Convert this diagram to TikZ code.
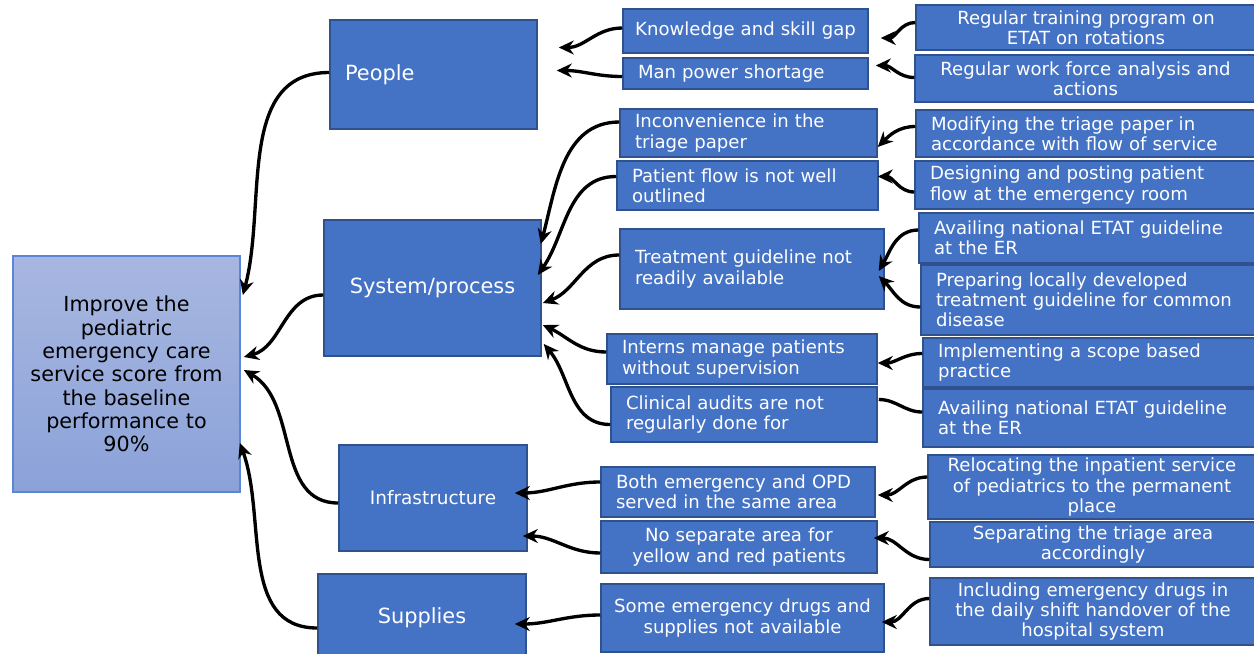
\documentclass[tikz,border=0pt]{standalone}
\usepackage{fontspec}
\setmainfont{DejaVu Sans}
\usetikzlibrary{arrows.meta,calc}
\definecolor{boxcol}{HTML}{4472C4}
\definecolor{edgecol}{HTML}{2F528F}
\definecolor{goaltop}{HTML}{A8B7E1}
\definecolor{goalbot}{HTML}{8BA2D8}
\definecolor{goaledge}{HTML}{5B86D6}
\tikzset{
  box/.style={
    rectangle, draw=edgecol, fill=boxcol, line width=0.9pt,
    text=white, inner xsep=0.3cm, inner ysep=0pt,
    font=\fontsize{10.3}{11.4}\selectfont,
  },
  boxl/.style={box, align=left},
  boxc/.style={box, align=center},
  catbox/.style={box, font=\fontsize{11.9}{13}\selectfont},
  goalbox/.style={
    rectangle, draw=goaledge, line width=1pt,
    top color=goaltop, bottom color=goalbot,
    text=black, align=center, inner xsep=0.1cm,
    font=\fontsize{11.8}{13.3}\selectfont,
  },
  arr/.style={-{Stealth[length=3mm,width=2.8mm]}, line width=1.9pt},
  lnk/.style={line width=1.9pt},
}

\begin{document}
\begin{tikzpicture}[x=0.02cm, y=-0.02cm]

\useasboundingbox (0,0) rectangle (1254,653);
\fill[white] (0,0) rectangle (1254,653);
\clip (0,0) rectangle (1254,653);

% ===== Goal =====
\node[goalbox, text width=4.34cm, minimum height=4.72cm] (goal) at (126.5,374)
  {Improve the\\pediatric\\emergency care\\service score from\\the baseline\\performance to\\90\%};

% ===== Categories =====
\node[catbox, align=left, text width=3.54cm, minimum height=2.18cm] (people) at (433.5,74.5) {People};
\node[catbox, align=center, text width=3.74cm, minimum height=2.72cm] (system) at (432.5,288) {System/process};
\node[catbox, align=center, text width=3.16cm, minimum height=2.12cm,
  font=\fontsize{10.5}{13}\selectfont] (infra) at (433,498) {Infrastructure};
\node[catbox, align=center, text width=3.56cm, minimum height=1.76cm] (supplies) at (422,618) {Supplies};

% ===== Causes =====
\node[boxc, inner xsep=0.1cm, text width=4.7cm, minimum height=0.88cm] (know) at (745.5,31) {Knowledge and skill gap};
\node[boxl, text width=4.3cm, minimum height=0.62cm] (man) at (745.5,73.5) {Man power shortage};
\node[boxl, text width=4.54cm, minimum height=0.96cm] (incon) at (748.5,133) {Inconvenience in the\\triage paper};
\node[boxl, text width=4.62cm, minimum height=0.98cm] (flow) at (747.5,185.5) {Patient flow is not well\\outlined};
\node[boxl, text width=4.68cm, minimum height=1.6cm] (treat) at (752,269) {Treatment guideline not\\readily available};
\node[boxl, text width=4.8cm, minimum height=1.0cm] (interns) at (742,359) {Interns manage patients\\without supervision};
\node[boxl, text width=4.72cm, minimum height=1.1cm] (audit) at (744,414.5) {Clinical audits are not\\regularly done for};
\node[boxl, text width=4.88cm, minimum height=1.0cm] (both) at (738,492) {Both emergency and OPD\\served in the same area};
\node[boxc, text width=4.92cm, minimum height=1.04cm] (nosep) at (739,547) {No separate area for\\yellow and red patients};
\node[boxc, inner xsep=0.1cm, text width=5.46cm, minimum height=1.36cm] (drugs) at (742.5,618) {Some emergency drugs and\\supplies not available};

% ===== Actions =====
\node[boxc, text width=6.2cm, minimum height=0.9cm] (train) at (1086,27.5) {Regular training program on\\ETAT on rotations};
\node[boxc, text width=6.22cm, minimum height=0.94cm] (force) at (1085.5,78.5) {Regular work force analysis and\\actions};
\node[boxl, text width=6.2cm, minimum height=0.94cm] (modif) at (1086,133.5) {Modifying the triage paper in\\accordance with flow of service};
\node[boxl, text width=6.22cm, minimum height=0.96cm] (design) at (1085.5,185) {Designing and posting patient\\flow at the emergency room};
\node[boxl, text width=6.14cm, minimum height=1.0cm] (avail) at (1087.5,238) {Availing national ETAT guideline\\at the ER};
\node[boxl, text width=6.1cm, minimum height=1.4cm] (prep) at (1088.5,300) {Preparing locally developed\\treatment guideline for common\\disease};
\node[boxl, text width=6.06cm, minimum height=0.98cm] (impl) at (1089.5,362.5) {Implementing a scope based\\practice};
\node[boxl, text width=6.06cm, minimum height=1.16cm] (availb) at (1089.5,418) {Availing national ETAT guideline\\at the ER};
\node[boxc, text width=5.96cm, minimum height=1.28cm] (reloc) at (1092,487) {Relocating the inpatient service\\of pediatrics to the permanent\\place};
\node[boxc, text width=5.92cm, minimum height=0.9cm] (sep) at (1093,544.5) {Separating the triage area\\accordingly};
\node[boxc, text width=5.92cm, minimum height=1.34cm] (incl) at (1093,611.5) {Including emergency drugs in\\the daily shift handover of the\\hospital system};

% ===== Actions -> causes =====
\draw[arr] ($(train.west)+(0,-5)$) to[out=180,in=0] ($(know.east)+(12,7)$);
\draw[arr] ($(force.west)+(0,-1)$) to[out=180,in=0] ($(man.east)+(7,-8)$);
\draw[arr] ($(modif.west)+(0,-7)$) to[out=180,in=45] ($(incon.east)+(0,14)$);
\draw[arr] ($(design.west)+(0,7)$) to[out=180,in=0] ($(flow.east)+(-1,-9)$);
\draw[arr] ($(avail.west)+(0,-8)$) to[out=180,in=60] ($(treat.east)+(-6,2)$);
\draw[arr] ($(prep.west)+(0,7)$) to[out=180,in=-45] ($(treat.east)+(-6,7)$);
\draw[arr] ($(impl.west)+(0,-9)$) to[out=180,in=0] ($(interns.east)+(0,4)$);
\draw[lnk] ($(availb.west)+(0,-6)$) to[out=180,in=0] ($(audit.east)+(1,-15)$);
\draw[arr] ($(reloc.west)+(0,-10)$) to[out=180,in=0] ($(both.east)+(2,3)$);
\draw[arr] ($(sep.west)+(0,15)$) to[out=180,in=0] ($(nosep.east)+(-4,-9)$);
\draw[arr] ($(incl.west)+(0,-13)$) to[out=180,in=0] ($(drugs.east)+(-3,4)$);

% ===== Causes -> categories =====
\draw[arr] ($(know.west)+(0,-3)$) to[out=180,in=0] ($(people.east)+(21,-27)$);
\draw[arr] ($(man.west)+(0,3)$) to[out=180,in=0] ($(people.east)+(19,-4)$);
\draw[arr] ($(incon.west)+(0,-11)$) to[out=180,in=75] ($(system.east)+(-1,-44)$);
\draw[arr] ($(flow.west)+(0,-9)$) to[out=180,in=55] ($(system.east)+(-4,-13)$);
\draw[arr] ($(treat.west)+(0,-14)$) to[out=180,in=20] ($(system.east)+(1,15)$);
\draw[arr] ($(interns.west)+(0,-7)$) to[out=180,in=-25] ($(system.east)+(1,37)$);
\draw[arr] ($(audit.west)+(0,10)$) to[out=180,in=-50] ($(system.east)+(2,56)$);
\draw[arr] ($(both.west)+(0,-10)$) to[out=180,in=0] ($(infra.east)+(-13,-5)$);
\draw[arr] ($(nosep.west)+(0,6)$) to[out=180,in=0] ($(infra.east)+(-5,38)$);
\draw[arr] ($(drugs.west)+(0,-3)$) to[out=180,in=0] ($(supplies.east)+(-12,6)$);

% ===== Categories -> goal =====
\draw[arr] ($(people.west)+(0,-2)$) to[out=180,in=75] ($(goal.east)+(2,-79)$);
\draw[arr] ($(system.west)+(0,7)$) to[out=180,in=15] ($(goal.east)+(3,-17)$);
\draw[arr] ($(infra.west)+(0,5)$) to[out=180,in=-30] ($(goal.east)+(3,-4)$);
\draw[arr] ($(supplies.west)+(0,10)$) to[out=180,in=-70] ($(goal.east)+(-1,69)$);

\end{tikzpicture}
\end{document}
